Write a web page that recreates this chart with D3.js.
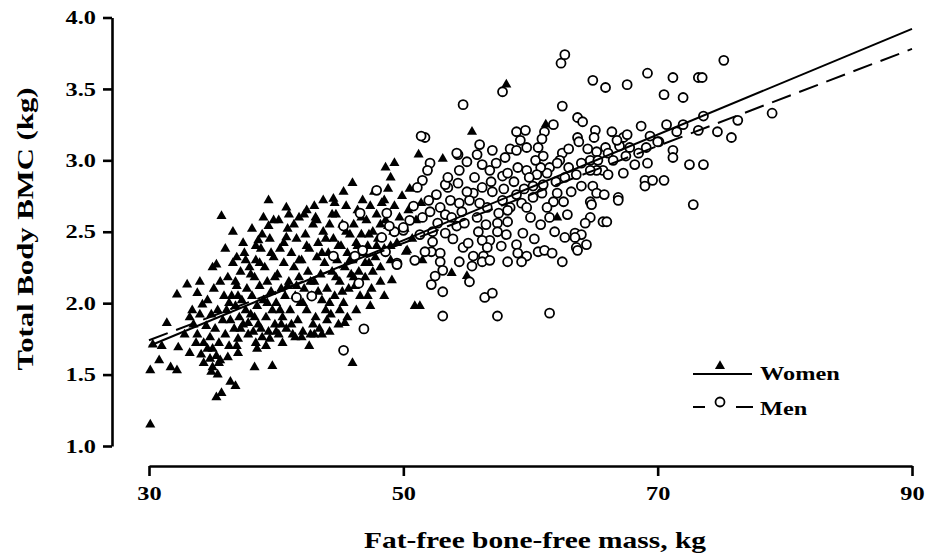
<!DOCTYPE html>
<html>
<head>
<meta charset="utf-8">
<script src="https://cdn.jsdelivr.net/npm/d3@7"></script>
<style>
  body { margin: 0; background: #fff; }
  svg { display: block; font-family: "Liberation Serif", "Times New Roman", serif; font-weight: bold; }
</style>
</head>
<body>
<svg id="chart" width="927" height="554"></svg>
<script>
// women: [fat-free bone-free mass kg, total body BMC kg]
const women = [
  [30.1,1.15],[30.1,1.53],[30.3,1.71],[31.4,1.86],[31.7,1.55],[32.2,1.53],[32.2,2.06],[33.0,2.13],[33.8,2.07],[34.2,1.99],
  [32.3,1.69],[33.2,1.65],[34.8,1.61],[35.3,1.63],[35.3,1.34],[35.7,1.37],[36.4,1.45],[36.8,1.42],[38.3,1.55],[39.7,1.56],
  [38.5,1.68],[35.7,2.61],[35.3,2.27],[36.9,2.32],[38.6,2.44],[39.4,2.54],[39.4,2.72],[40.8,2.67],[40.8,2.46],[41.8,2.60],
  [42.4,2.65],[43.2,2.58],[43.7,2.72],[44.5,2.73],[45.3,2.78],[46.0,2.84],[48.6,2.95],[49.3,2.98],[46.0,1.58],[45.6,1.90],
  [47.4,1.98],[48.2,2.15],[49.1,2.16],[48.8,2.54],[50.3,2.37],[50.2,2.36],
  [58.1,3.53],[55.4,3.20],[61.2,3.25],[51.2,3.04],[53.1,3.01],[62.1,2.60],[50.9,1.98],[51.3,1.98],[55.0,2.19],[53.8,2.21],
  [51.5,2.30],[49.0,2.40],
  [33.5,1.85],[33.8,1.78],[34.0,1.92],[34.3,1.72],[34.5,1.84],[34.6,2.02],[34.8,1.76],[34.9,1.92],[35.0,1.68],[35.1,2.10],
  [35.2,1.82],[35.4,1.95],[35.5,1.72],[35.6,1.60],[35.8,1.88],[35.9,2.05],[33.4,1.95],[34.1,1.64],[35.0,1.55],[35.4,1.50],
  [36.0,1.78],[36.1,1.95],[36.2,2.18],[36.3,1.70],[36.4,1.88],[36.5,2.05],[36.6,2.28],[36.7,1.82],[36.8,1.98],[36.9,2.12],
  [37.0,1.75],[37.1,1.90],[37.2,2.22],[37.3,2.02],[37.4,1.85],[37.5,2.35],[37.6,1.95],[37.7,2.10],[37.8,1.78],[37.9,2.25],
  [36.2,1.62],[37.0,1.65],[37.4,2.42],[36.6,2.50],
  [38.0,1.92],[38.1,2.05],[38.2,1.80],[38.3,2.18],[38.4,2.30],[38.5,1.98],[38.6,1.85],[38.7,2.12],[38.8,2.38],[38.9,1.76],
  [39.0,2.02],[39.1,2.25],[39.2,1.90],[39.3,2.15],[39.4,1.80],[39.5,2.45],[39.6,2.08],[39.7,1.95],[39.8,2.32],[39.9,1.85],
  [38.1,2.52],[38.4,1.72],[39.0,2.60],[39.2,1.70],
  [40.0,2.00],[40.1,2.20],[40.2,1.78],[40.3,2.38],[40.4,2.10],[40.5,1.90],[40.6,2.28],[40.7,2.05],[40.8,1.82],[40.9,2.52],
  [41.0,2.15],[41.1,1.95],[41.2,2.35],[41.3,1.78],[41.4,2.25],[41.5,2.05],[41.6,2.45],[41.7,1.88],[41.8,2.18],[41.9,2.00],
  [40.2,2.58],[41.0,2.62],[40.5,1.72],[41.5,1.76],
  [42.0,2.30],[42.1,1.80],[42.2,2.10],[42.3,2.48],[42.4,1.95],[42.5,2.22],[42.6,2.38],[42.7,1.78],[42.8,2.05],[42.9,2.55],
  [43.0,2.15],[43.1,1.90],[43.2,2.32],[43.3,2.42],[43.4,1.82],[43.5,2.20],[43.6,2.02],[43.7,2.50],[43.8,2.28],[43.9,1.95],
  [42.2,2.62],[43.0,2.68],[42.6,1.70],[43.6,1.78],
  [44.0,2.10],[44.1,2.35],[44.2,2.55],[44.3,1.92],[44.4,2.22],[44.5,2.45],[44.6,2.05],[44.7,2.62],[44.8,2.30],[44.9,1.85],
  [45.0,2.15],[45.1,2.40],[45.2,2.55],[45.3,2.00],[45.4,2.25],[45.5,2.68],[45.6,2.35],[45.7,2.10],[45.8,2.48],[45.9,2.20],
  [44.2,1.80],[45.0,1.95],[44.6,2.70],
  [46.0,2.30],[46.1,2.55],[46.2,2.12],[46.3,2.42],[46.4,2.65],[46.5,2.22],[46.6,2.05],[46.7,2.48],[46.8,2.72],[46.9,2.35],
  [47.0,2.18],[47.1,2.58],[47.2,2.40],[47.3,2.28],[47.4,2.68],[47.5,2.10],[47.6,2.50],[47.7,2.78],[47.8,2.32],[47.9,2.62],
  [48.0,2.45],[48.2,2.25],[48.3,2.70],[48.5,2.38],[48.6,2.58],[48.8,2.80],[49.0,2.30],[49.2,2.50],[49.3,2.68],[49.5,2.42],
  [49.7,2.60],[49.9,2.75],[50.1,2.52],[50.4,2.65],[50.7,2.45],[51.0,2.58],[51.4,2.70],[49.0,2.88],[50.5,2.80],[48.5,2.05],
  [36.0,2.38],[35.0,2.25],[34.0,2.15],[32.8,1.78],[33.2,1.90],[31.0,1.70],[30.8,1.60],[34.3,1.58],[34.9,1.52],[35.5,1.58],
  [36.3,2.00],[36.8,2.15],[37.2,1.82],[37.6,2.30],[38.0,2.20],[38.3,1.90],[38.7,2.28],[38.9,2.48],[39.3,2.00],[39.6,2.35],
  [39.9,2.18],[40.3,1.95],[40.6,2.42],[40.9,2.12],[41.2,1.85],[41.4,2.55],[41.8,2.30],[42.1,2.00],[42.4,2.40],[42.7,2.15],
  [43.1,2.60],[43.3,2.08],[43.6,2.35],[43.9,2.45],[44.2,2.00],[44.4,2.62],[44.7,2.18],[44.9,2.40],[45.2,2.08],[45.5,2.50],
  [45.8,2.30],[46.1,2.18],[46.4,2.40],[46.7,2.60],[47.0,2.28],[47.3,2.48],[47.6,2.22],[47.9,2.40],[48.2,2.55],[48.5,2.72],
  [37.0,2.05],[38.4,2.40],[39.8,2.58],[40.4,1.85],[41.6,2.12],[42.9,1.85],[44.0,1.88],[45.4,1.86],[46.3,1.95],[47.2,2.05],
  [35.6,2.15],[36.9,1.70],[39.5,1.75],[42.0,1.76],[43.0,1.78],[40.0,1.80],[38.8,1.82],[37.8,1.86],[34.6,1.68],[33.7,1.72]
];

// men: [fat-free bone-free mass kg, total body BMC kg]
const men = [
  [62.4,3.68],[62.7,3.74],[75.2,3.70],[64.9,3.56],[65.9,3.51],[67.6,3.53],[69.2,3.61],[71.2,3.58],[73.2,3.58],[73.5,3.58],
  [70.5,3.46],[72.0,3.44],[57.8,3.48],[54.7,3.39],[62.5,3.38],[63.7,3.30],[64.1,3.27],[73.6,3.31],[76.3,3.28],[79.0,3.33],
  [74.7,3.20],[75.8,3.16],[73.2,3.21],[72.0,3.25],[70.7,3.25],[71.5,3.20],[68.7,3.24],[69.4,3.17],[67.3,3.16],[65.1,3.21],
  [65.0,3.16],[63.7,3.16],[63.8,3.13],[58.9,3.20],[59.6,3.21],[59.2,3.14],[61.8,3.25],[61.1,3.20],[60.9,3.15],[51.7,3.16],
  [51.4,3.17],[56.0,3.11],[57.0,3.07],[58.4,3.08],[58.9,3.07],[59.7,3.09],[60.6,3.09],[62.5,3.05],[62.3,3.00],[64.5,3.08],
  [65.2,3.06],[65.9,3.09],[66.1,3.05],[67.0,3.10],[67.8,3.09],[69.1,3.09],[70.1,3.13],[71.2,3.07],[71.2,3.02],[72.5,2.97],
  [73.6,2.97],[68.2,2.97],[69.2,2.98],[67.3,2.91],[69.0,2.86],[69.6,2.86],[70.5,2.86],[69.0,2.82],[72.8,2.69],[64.0,2.98],
  [64.7,3.00],[65.3,3.00],[65.7,2.93],[65.2,2.93],[64.7,2.93],[63.6,2.90],[64.0,2.82],[64.9,2.82],[65.2,2.77],[65.8,2.76],
  [66.9,2.74],[64.7,2.71],[61.5,2.95],[62.1,2.98],[61.3,2.91],[60.8,2.95],[59.0,2.95],[59.7,2.93],[60.5,2.90],[59.9,2.88],
  [57.8,2.89],[58.2,2.91],[56.8,2.93],[62.1,2.77],[62.6,2.71],[61.8,2.71],[60.9,2.77],[60.2,2.74],[61.3,2.67],[65.7,2.57],
  [64.7,2.60],[64.3,2.56],[63.5,2.49],[64.0,2.48],[62.7,2.46],[63.6,2.39],[64.4,2.41],[63.7,2.37],[58.9,2.76],[59.3,2.70],
  [59.7,2.67],[58.4,2.67],[57.8,2.72],[57.0,2.78],[56.2,2.81],[55.5,2.77],[55.2,2.72],[56.0,2.70],[54.4,2.70],[52.9,2.67],
  [53.7,2.72],[52.1,2.64],[53.5,2.81],[54.3,2.84],[55.0,2.78],[54.3,3.04],[54.4,2.93],[55.0,2.99],[52.1,2.98],[51.9,2.93],
  [51.5,2.86],[51.1,2.81],[53.3,2.62],[52.7,2.56],[51.5,2.60],[50.5,2.58],[50.0,2.51],[49.3,2.50],[52.3,2.50],[53.3,2.49],
  [54.2,2.54],[54.8,2.56],[56.6,2.67],[57.5,2.63],[58.2,2.65],[57.4,2.56],[58.2,2.57],[58.1,2.48],[56.8,2.44],[57.4,2.50],
  [56.2,2.44],[56.6,2.39],[56.3,2.33],[58.9,2.41],[59.4,2.49],[59.0,2.35],[59.7,2.33],[60.6,2.36],[61.1,2.37],[61.7,2.35],
  [59.3,2.29],[58.2,2.29],[62.5,2.29],[52.3,2.43],[52.2,2.36],[52.9,2.35],[52.9,2.29],[53.1,2.23],[54.7,2.39],[54.4,2.29],
  [55.5,2.33],[56.2,2.29],[55.4,2.26],[56.8,2.30],[52.2,2.13],[53.1,2.08],[52.5,2.19],[56.4,2.04],[57.0,2.07],[53.1,1.91],
  [57.4,1.91],[61.5,1.93],[55.2,2.15],[49.5,2.28],[50.9,2.30],[51.7,2.36],[64.8,2.69],[66.9,2.72],[66.0,2.57],[63.5,2.46],
  [54.2,3.05],[53.3,2.83],[53.5,2.88],[66.1,2.90],[70.0,3.13],[67.6,3.18],[66.8,3.14],
  [47.9,2.79],[46.6,2.63],[48.7,2.63],[45.3,2.54],[48.9,2.54],[50.0,2.53],[48.3,2.46],[46.8,2.37],[46.2,2.33],[44.5,2.33],
  [48.6,2.36],[49.5,2.27],[46.5,2.14],[41.6,2.04],[42.8,2.05],[46.9,1.82],[45.3,1.67],
  [53.8,2.60],[54.6,2.64],[55.8,2.60],[56.5,2.55],[55.9,2.50],[57.9,2.80],[58.7,2.85],[60.2,2.82],[60.0,2.60],[60.8,2.55],
  [61.5,2.60],[61.9,2.50],[62.9,2.62],[63.2,2.78],[63.0,2.95],[60.4,3.00],[57.3,2.98],[56.2,2.97],[55.6,2.88],[52.6,2.76],
  [53.9,2.45],[55.1,2.42],[57.7,2.40],[60.3,2.45],[61.0,2.83],[62.7,2.88],[66.5,3.00],[67.5,3.03],[68.5,3.05],[66.4,3.20],
  [63.0,3.08],[61.0,3.03],[58.0,3.02],[55.8,3.04],[56.9,2.85],[59.5,2.80],[62.0,2.85],[52.0,2.72],[50.8,2.68],[51.3,2.48]
];

// regression lines
const womenLine = [[30, 1.70], [90, 3.92]];
const menLine = [[30, 1.74], [90, 3.78]];

const xTicks = [30, 50, 70, 90];
const yTicks = [1.0, 1.5, 2.0, 2.5, 3.0, 3.5, 4.0];

const svg = d3.select("#chart");
const x = d3.scaleLinear().domain([30, 90]).range([149, 912]);
const y = d3.scaleLinear().domain([1, 4]).range([446, 17.5]);

const stretch = 1.28;
function widen(sel) {
  sel.each(function () {
    const w = this.getComputedTextLength();
    d3.select(this).attr("textLength", w * stretch).attr("lengthAdjust", "spacingAndGlyphs");
  });
}

// y axis
const yAxis = svg.append("g")
  .attr("transform", "translate(112,0)")
  .call(d3.axisLeft(y).tickValues(yTicks).tickFormat(d3.format(".1f")).tickSize(9).tickSizeOuter(0).tickPadding(7));

// x axis
const xAxis = svg.append("g")
  .attr("transform", "translate(0,466)")
  .call(d3.axisBottom(x).tickValues(xTicks).tickSize(10).tickSizeOuter(0).tickPadding(11));

[yAxis, xAxis].forEach(ax => {
  ax.selectAll("path, line").attr("stroke", "#000").attr("stroke-width", 2.6);
  ax.selectAll("text")
    .attr("fill", "#000")
    .style("font-family", "'Liberation Serif', serif")
    .style("font-weight", "bold")
    .style("font-size", "19px")
    .call(widen);
});

// titles
svg.append("text")
  .attr("transform", "translate(33,229) rotate(-90)")
  .attr("text-anchor", "middle")
  .style("font-size", "23px")
  .text("Total Body BMC (kg)")
  .attr("textLength", 283).attr("lengthAdjust", "spacingAndGlyphs");

svg.append("text")
  .attr("x", 535).attr("y", 548)
  .attr("text-anchor", "middle")
  .style("font-size", "23px")
  .text("Fat-free bone-free mass, kg")
  .attr("textLength", 342).attr("lengthAdjust", "spacingAndGlyphs");

// points
const tri = d3.symbol(d3.symbolTriangle, 44);
svg.append("g").selectAll("path")
  .data(women)
  .join("path")
  .attr("d", tri)
  .attr("transform", d => `translate(${x(d[0])},${y(d[1])})`)
  .attr("fill", "#000");

svg.append("g").selectAll("circle")
  .data(men)
  .join("circle")
  .attr("cx", d => x(d[0]))
  .attr("cy", d => y(d[1]))
  .attr("r", 4.5)
  .attr("fill", "#fff")
  .attr("stroke", "#000")
  .attr("stroke-width", 1.8);

// regression lines
const line = d3.line().x(d => x(d[0])).y(d => y(d[1]));
svg.append("path").attr("d", line(womenLine))
  .attr("fill", "none").attr("stroke", "#000").attr("stroke-width", 2);
svg.append("path").attr("d", line(menLine))
  .attr("fill", "none").attr("stroke", "#000").attr("stroke-width", 2)
  .attr("stroke-dasharray", "20,9");

// legend
const legend = svg.append("g");
legend.append("line").attr("x1", 693).attr("x2", 752).attr("y1", 374).attr("y2", 374)
  .attr("stroke", "#000").attr("stroke-width", 2);
legend.append("path").attr("d", tri).attr("transform", "translate(720,366)").attr("fill", "#000");
legend.append("text").attr("x", 760).attr("y", 380).style("font-size", "19px").text("Women").call(widen);

legend.append("line").attr("x1", 693).attr("x2", 753).attr("y1", 407).attr("y2", 407)
  .attr("stroke", "#000").attr("stroke-width", 2).attr("stroke-dasharray", "12,31,17");
legend.append("circle").attr("cx", 720).attr("cy", 402).attr("r", 4.5)
  .attr("fill", "#fff").attr("stroke", "#000").attr("stroke-width", 1.8);
legend.append("text").attr("x", 760).attr("y", 415).style("font-size", "19px").text("Men").call(widen);
</script>
</body>
</html>
